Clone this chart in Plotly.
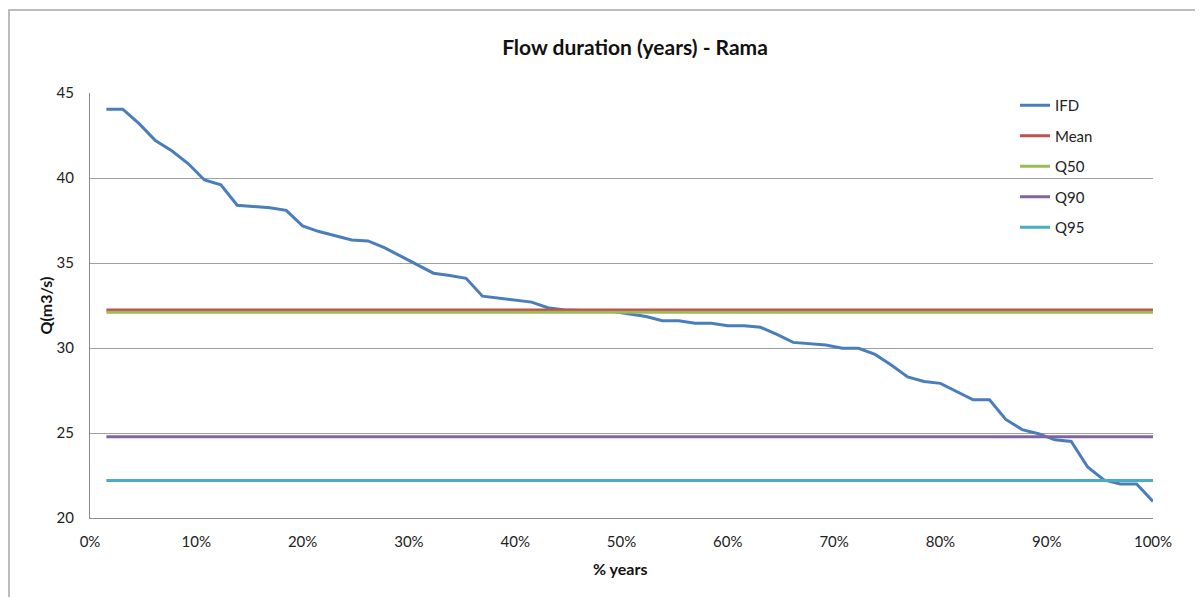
import plotly.graph_objects as go

# Exceedance (% of years) for each ranked year
pct_years = [1.54, 3.08, 4.62, 6.15, 7.69, 9.23, 10.77, 12.31, 13.85, 15.38,
             16.92, 18.46, 20.00, 21.54, 23.08, 24.62, 26.15, 27.69, 29.23, 30.77,
             32.31, 33.85, 35.38, 36.92, 38.46, 40.00, 41.54, 43.08, 44.62, 46.15,
             47.69, 49.23, 50.77, 52.31, 53.85, 55.38, 56.92, 58.46, 60.00, 61.54,
             63.08, 64.62, 66.15, 67.69, 69.23, 70.77, 72.31, 73.85, 75.38, 76.92,
             78.46, 80.00, 81.54, 83.08, 84.62, 86.15, 87.69, 89.23, 90.77, 92.31,
             93.85, 95.38, 96.92, 98.46, 100.00]

ifd = [44.05, 44.05, 43.2, 42.2, 41.6, 40.85, 39.88, 39.6, 38.4, 38.33,
       38.25, 38.1, 37.18, 36.85, 36.6, 36.35, 36.3, 35.9, 35.4, 34.88,
       34.4, 34.27, 34.1, 33.05, 32.94, 32.85, 32.7, 32.37, 32.24, 32.2,
       32.17, 32.14, 32.0, 31.85, 31.6, 31.6, 31.45, 31.45, 31.31, 31.31,
       31.22, 30.8, 30.33, 30.26, 30.18, 29.98, 29.98, 29.62, 29.0, 28.3,
       28.03, 27.92, 27.43, 26.95, 26.95, 25.8, 25.2, 24.96, 24.6, 24.5,
       23.0, 22.24, 22.0, 22.0, 20.97]

mean_q = 32.24
q50 = 32.1
q90 = 24.78
q95 = 22.2

series_names = ["IFD", "Mean", "Q50", "Q90", "Q95"]
series_colors = ["#4A7EBB", "#C0504D", "#9BBB59", "#8064A2", "#4BACC6"]
series_values = [ifd,
                 [mean_q] * len(pct_years),
                 [q50] * len(pct_years),
                 [q90] * len(pct_years),
                 [q95] * len(pct_years)]

FONT = "Lato, 'Open Sans', sans-serif"

# the page body has an 8px margin: figure origin sits at (8, 8)
OFF = 8
W, H = 1203 - OFF, 597 - OFF
PL, PR, PT, PB = 90, 1153, 93, 518  # plot area in page pixels
PW, PH = PR - PL, PB - PT

fig = go.Figure()
for name, col, vals in zip(series_names, series_colors, series_values):
    fig.add_trace(go.Scatter(x=pct_years, y=vals, mode="lines", name=name,
                             legendgroup=name,
                             line=dict(color=col, width=3)))

fig.update_layout(
    width=W, height=H,
    margin=dict(l=PL - OFF, r=W - (PR - OFF), t=PT - OFF, b=H - (PB - OFF)),
    paper_bgcolor="white", plot_bgcolor="white",
    font=dict(family=FONT, size=15, color="#222222"),
    title=dict(text="<b>Flow duration (years) - Rama</b>",
               x=(635 - OFF) / W, xanchor="center",
               y=1 - (48 - OFF) / H, yanchor="middle",
               font=dict(family=FONT, size=21, color="#111111")),
    legend=dict(x=(1015 - PL) / PW, y=1.0 + 4 / PH, xanchor="left", yanchor="top",
                bgcolor="rgba(0,0,0,0)", tracegroupgap=8,
                font=dict(family=FONT, size=15, color="#222222")),
    showlegend=True,
)

fig.update_xaxes(range=[0, 100], dtick=10, tick0=0, ticksuffix="%",
                 showgrid=False, zeroline=False,
                 showline=True, linecolor="#8c8c8c", linewidth=1,
                 ticks="", ticklabelstandoff=10,
                 tickfont=dict(family=FONT, size=15, color="#222222"))
fig.update_yaxes(range=[20, 45], dtick=5, tick0=20,
                 showgrid=True, gridcolor="#a0a0a0", gridwidth=1,
                 zeroline=False,
                 showline=True, linecolor="#8c8c8c", linewidth=1,
                 ticks="", ticklabelstandoff=12,
                 tickfont=dict(family=FONT, size=15, color="#222222"))

# Axis titles
fig.add_annotation(text="<b>Q(m3/s)</b>", xref="paper", yref="paper",
                   x=(45 - PL) / PW, y=0.5, textangle=-90, showarrow=False,
                   xanchor="center", yanchor="middle",
                   font=dict(family=FONT, size=16, color="#111111"))
fig.add_annotation(text="<b>% years</b>", xref="paper", yref="paper",
                   x=(620 - PL) / PW, y=(PB - 568) / PH, showarrow=False,
                   xanchor="center", yanchor="middle",
                   font=dict(family=FONT, size=16, color="#111111"))

# Outer chart-area border
fig.add_shape(type="rect", xref="paper", yref="paper",
              x0=(9 - PL) / PW, x1=(1215 - PL) / PW,
              y0=(PB - 610) / PH, y1=(PB - 10) / PH,
              line=dict(color="#a6a6a6", width=1.5), fillcolor="rgba(0,0,0,0)",
              layer="below")

fig.write_html("out.html")
